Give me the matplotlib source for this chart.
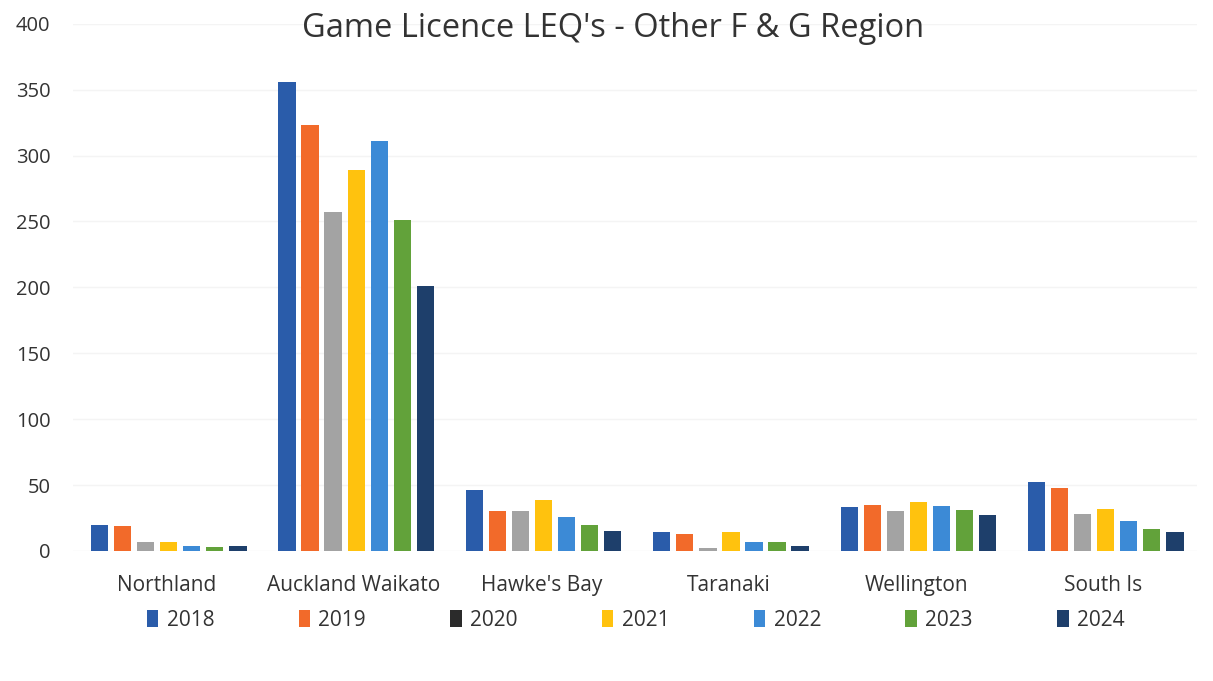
import matplotlib
matplotlib.use("Agg")
import matplotlib.pyplot as plt
import numpy as np
from matplotlib.patches import Patch

categories = ["Northland", "Auckland Waikato", "Hawke's Bay", "Taranaki", "Wellington", "South Is"]
years = ["2018", "2019", "2020", "2021", "2022", "2023", "2024"]
v2018 = [20, 356, 46, 14, 33, 52]
v2019 = [19, 323, 30, 13, 35, 48]
v2020 = [7, 257, 30, 2, 30, 28]
v2021 = [7, 289, 39, 14, 37, 32]
v2022 = [4, 311, 26, 7, 34, 23]
v2023 = [3, 251, 20, 7, 31, 17]
v2024 = [4, 201, 15, 4, 27, 14]
series = [v2018, v2019, v2020, v2021, v2022, v2023, v2024]
colors = ["#2A5CAA", "#F26A2A", "#A3A3A3", "#FFC20E", "#3C8AD6", "#62A23A", "#1E3F6B"]
legend_colors = ["#2A5CAA", "#F26A2A", "#2B2B2B", "#FFC20E", "#3C8AD6", "#62A23A", "#1E3F6B"]

plt.rcParams['font.family'] = ['Open Sans', 'DejaVu Sans']
fig = plt.figure(figsize=(12.13, 6.81), dpi=100)
ax = fig.add_axes([0.060, 0.191, 0.927, 0.774])

x = np.arange(len(categories))
step = 0.123
bw = 0.092
for i, (vals, c) in enumerate(zip(series, colors)):
    ax.bar(x + (i - 3) * step + 0.012, vals, width=bw, color=c, zorder=3)

ax.set_xlim(-0.5, len(categories) - 0.5)
ax.set_ylim(0, 400)
ax.set_yticks(range(0, 401, 50))
ax.yaxis.grid(True, color="#F4F4F4", linewidth=1, zorder=0)
for s in ax.spines.values():
    s.set_visible(False)
ax.tick_params(axis='both', length=0, colors="#333333")
ax.tick_params(axis='y', pad=16, labelsize=14.5)
ax.set_xticks(x)
ax.set_xticklabels(categories, fontsize=15)
ax.tick_params(axis='x', pad=17)
for lbl in ax.get_yticklabels():
    lbl.set_horizontalalignment('right')

fig.text(0.505, 0.958, "Game Licence LEQ's - Other F & G Region", ha='center', va='center',
         fontsize=23.5, color="#333333")

handles = [Patch(facecolor=c, label=y) for c, y in zip(legend_colors, years)]
fig.legend(handles=handles, loc='center', bbox_to_anchor=(0.524, 0.089), ncol=7, frameon=False,
           fontsize=15, handlelength=0.55, handleheight=0.85, handletextpad=0.4, columnspacing=4.05,
           labelcolor="#333333")

fig.savefig("out.png", dpi=100)
